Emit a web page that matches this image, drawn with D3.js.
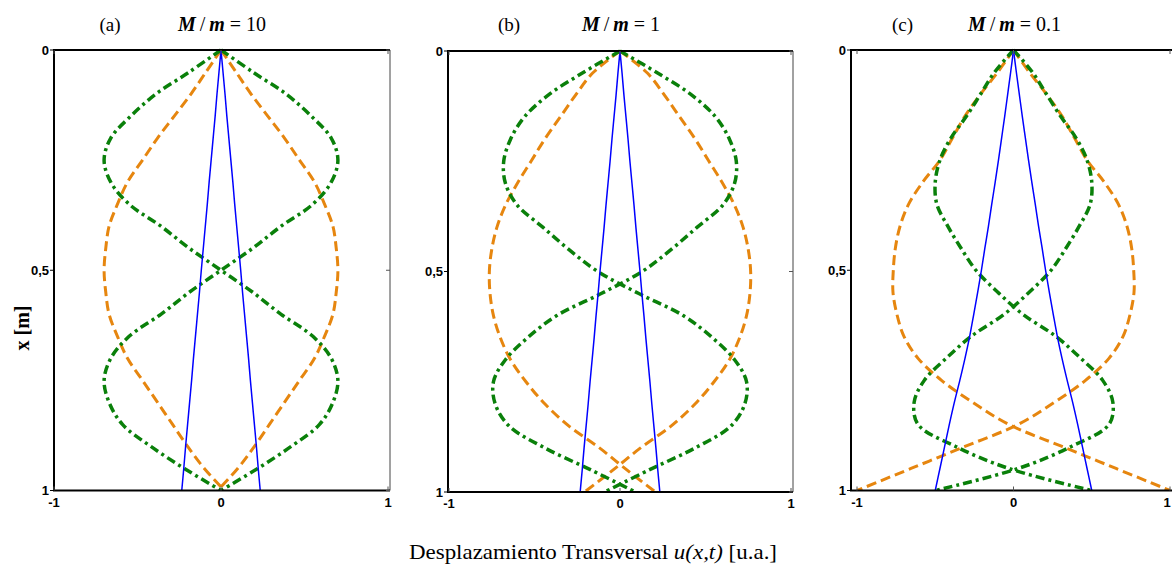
<!DOCTYPE html>
<html>
<head>
<meta charset="utf-8">
<script src="https://cdn.jsdelivr.net/npm/d3@7"></script>
<style>
  body { margin: 0; background: #fff; }
  svg { display: block; }
  .tick-label { font-family: "Liberation Sans", Arial, sans-serif; font-size: 13px; font-weight: bold; fill: #000; }
  .serif { font-family: "Liberation Serif", "Times New Roman", serif; fill: #000; }
</style>
</head>
<body>
<svg id="chart"></svg>
<script>
      //begin: data
      // position along the string, x [m] (0 = top, 1 = bottom)
      var depth = [0, 0.05, 0.1, 0.15, 0.2, 0.25, 0.3, 0.35, 0.4, 0.45, 0.5,
                   0.55, 0.6, 0.65, 0.7, 0.75, 0.8, 0.85, 0.9, 0.95, 1];

      // M/m = 10
      var modo1A = [0, .012, .024, .035, .047, .059, .071, .082, .094, .106, .118,
                    .129, .141, .153, .165, .176, .188, .200, .212, .223, .235];
      var modo2A = [0, .09, .18, .28, .38, .47, .56, .62, .67, .69, .70,
                    .69, .67, .62, .56, .47, .38, .29, .20, .10, -.02];
      var modo3A = [0, .19, .39, .54, .66, .70, .66, .55, .36, .19, 0,
                    -.19, -.36, -.55, -.66, -.70, -.67, -.59, -.42, -.22, 0];

      // M/m = 1
      var modo1B = [0, .012, .023, .035, .047, .058, .070, .082, .093, .105, .117,
                    .128, .140, .151, .163, .175, .186, .198, .210, .221, .233];
      var modo2B = [0, .16, .26, .35, .44, .52, .60, .67, .72, .75, .764,
                    .76, .74, .70, .64, .55, .44, .30, .12, -.04, -.207];
      var modo3B = [0, .22, .42, .56, .64, .68, .67, .60, .45, .30, .13,
                    -.11, -.37, -.54, -.67, -.74, -.73, -.65, -.44, -.17, .09];

      // M/m = 0.1
      var modo1C = [0, .018, .037, .056, .076, .096, .117, .139, .160, .183, .205,
                    .229, .254, .280, .310, .343, .378, .410, .440, .470, .500];
      var modo2C = [0, .10, .21, .31, .39, .47, .58, .67, .725, .755, .768,
                    .77, .745, .70, .61, .46, .26, .03, -.31, -.655, -1.0];
      var modo3C = [0, .12, .21, .30, .40, .47, .50, .49, .42, .335, .24,
                    .10, -.06, -.27, -.43, -.57, -.635, -.61, -.37, -.03, .50];

      var panelLetters = ["(a)", "(b)", "(c)"];
      var massRatios = ["10", "1", "0.1"];
      var xTicks = [-1, 0, 1];
      var yTicks = [0, 0.5, 1];
      var yTickLabels = ["0", "0,5", "1"];
      //end: data

      //begin: layout conf.
      var svgWidth = 1172,
          svgHeight = 564;

      var panels = [
        {box: {left: 54, right: 390, top: 50, bottom: 490.5}, xRange: [54, 388], modes: [modo1A, modo2A, modo3A]},
        {box: {left: 448, right: 793, top: 51, bottom: 492}, xRange: [449, 791], modes: [modo1B, modo2B, modo3B]},
        {box: {left: 851, right: 1176, top: 50, bottom: 490.5}, xRange: [857, 1170], modes: [modo1C, modo2C, modo3C]}
      ];

      var modeStyles = [
        {color: "#0000ff", width: 1.5, dash: null},
        {color: "#e6860f", width: 3, dash: "10,5"},
        {color: "#0a800a", width: 3.5, dash: "9,4,3,4"}
      ];
      var drawOrder = [1, 2, 0];
      var tickLen = 4;
      //end: layout conf.

      var svg = d3.select("#chart")
        .attr("width", svgWidth)
        .attr("height", svgHeight);

      panels.forEach(function(p, i) {
        drawPanel(p, i);
      });
      drawAxisTitles();

      function drawPanel(p, i) {
        var x = d3.scaleLinear().domain([-1, 1]).range(p.xRange),
            y = d3.scaleLinear().domain([0, 1]).range([p.box.top, p.box.bottom]);

        var g = svg.append("g").classed("panel", true);

        g.append("clipPath")
          .attr("id", "clip" + i)
          .append("rect")
          .attr("x", p.box.left)
          .attr("y", p.box.top - 3)
          .attr("width", p.box.right - p.box.left)
          .attr("height", p.box.bottom - p.box.top + 3);

        //begin: curves
        var curves = g.append("g").attr("clip-path", "url(#clip" + i + ")");
        drawOrder.forEach(function(m) {
          var values = p.modes[m],
              st = modeStyles[m];
          [1, -1].forEach(function(sign) {
            var line = d3.line()
              .x(function(d, k) { return x(sign * values[k]); })
              .y(function(d) { return y(d); })
              .curve(d3.curveCatmullRom.alpha(0.5));
            curves.append("path")
              .attr("d", line(depth))
              .attr("fill", "none")
              .attr("stroke", st.color)
              .attr("stroke-width", st.width)
              .attr("stroke-dasharray", st.dash)
              .attr("stroke-linejoin", "round");
          });
        });
        //end: curves

        //begin: box + ticks
        var b = p.box;
        g.append("line").attr("x1", b.right).attr("x2", b.right).attr("y1", b.top).attr("y2", b.bottom)
          .attr("stroke", "#444").attr("stroke-width", 1);
        g.append("path")
          .attr("d", "M" + [b.right, b.top] + "H" + b.left + "V" + b.bottom + "H" + b.right)
          .attr("fill", "none").attr("stroke", "#000").attr("stroke-width", 2);

        xTicks.forEach(function(t) {
          g.append("line").attr("x1", x(t)).attr("x2", x(t)).attr("y1", b.bottom).attr("y2", b.bottom - tickLen)
            .attr("stroke", "#555").attr("stroke-width", 1);
          g.append("line").attr("x1", x(t)).attr("x2", x(t)).attr("y1", b.top).attr("y2", b.top + tickLen)
            .attr("stroke", "#555").attr("stroke-width", 1);
          // keep the last label inside the window
          var lx = Math.min(x(t), svgWidth - 5);
          g.append("text")
            .classed("tick-label", true)
            .attr("x", lx)
            .attr("y", b.bottom + 16)
            .attr("text-anchor", "middle")
            .text(t);
        });

        yTicks.forEach(function(t, k) {
          g.append("line").attr("x1", b.left - tickLen).attr("x2", b.left).attr("y1", y(t)).attr("y2", y(t))
            .attr("stroke", "#000").attr("stroke-width", 1);
          g.append("line").attr("x1", b.right).attr("x2", b.right - tickLen).attr("y1", y(t)).attr("y2", y(t))
            .attr("stroke", "#555").attr("stroke-width", 1);
          g.append("text")
            .classed("tick-label", true)
            .attr("x", b.left - 5)
            .attr("y", y(t) + 4.5)
            .attr("text-anchor", "end")
            .text(yTickLabels[k]);
        });
        //end: box + ticks

        //begin: title
        var cx = x(0);
        g.append("text")
          .classed("serif", true)
          .attr("x", cx - 111)
          .attr("y", 31)
          .attr("text-anchor", "middle")
          .style("font-size", "19px")
          .text(panelLetters[i]);

        var title = g.append("text")
          .classed("serif", true)
          .attr("x", cx + 1)
          .attr("y", 31)
          .attr("text-anchor", "middle")
          .style("font-size", "20px");
        title.append("tspan").style("font-style", "italic").style("font-weight", "bold").text("M");
        title.append("tspan").text("\u2009/\u2009");
        title.append("tspan").style("font-style", "italic").style("font-weight", "bold").text("m");
        title.append("tspan").text(" = " + massRatios[i]);
        //end: title
      }

      function drawAxisTitles() {
        svg.append("text")
          .classed("serif", true)
          .attr("transform", "translate(" + [29, 328] + ") rotate(-90)")
          .attr("text-anchor", "middle")
          .style("font-size", "20px")
          .style("font-weight", "bold")
          .text("x [m]");

        var xl = svg.append("text")
          .classed("serif", true)
          .attr("x", 593)
          .attr("y", 559)
          .attr("text-anchor", "middle")
          .attr("textLength", 368)
          .attr("lengthAdjust", "spacingAndGlyphs")
          .style("font-size", "21px");
        xl.append("tspan").text("Desplazamiento Transversal ");
        xl.append("tspan").style("font-style", "italic").text("u(x,t)");
        xl.append("tspan").text(" [u.a.]");
      }
</script>
</body>
</html>
